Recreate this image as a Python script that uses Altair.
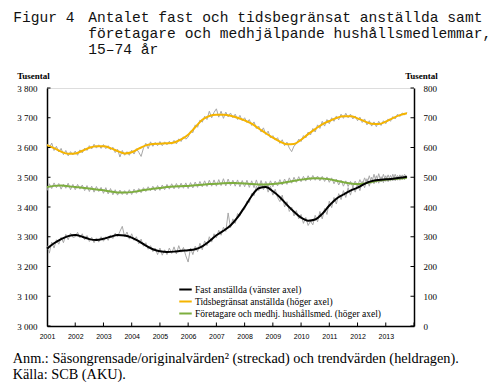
import altair as alt
import pandas as pd

# ---------------- data ----------------
series_names = [
    "Fast anställda (vänster axel)",
    "Tidsbegränsat anställda (höger axel)",
    "Företagare och medhj. hushållsmed. (höger axel)",
]
series_colors = ["#000000", "#F5B400", "#7DAE3E"]

year_ticks = list(range(2001, 2014))
left_ticks = [3000, 3100, 3200, 3300, 3400, 3500, 3600, 3700, 3800]
right_ticks = [0, 100, 200, 300, 400, 500, 600, 700, 800]

# monthly seasonally adjusted/original values, Jan 2001 - Oct 2013
raw_fast = [
    3270, 3245, 3282, 3262, 3290, 3275, 3298, 3280, 3308, 3290, 3312, 3298,
    3300, 3315, 3296, 3310, 3290, 3304, 3284, 3298, 3280, 3296, 3282, 3300,
    3285, 3300, 3288, 3306, 3294, 3312, 3300, 3318, 3335, 3300, 3316, 3292,
    3310, 3288, 3300, 3276, 3292, 3268, 3280, 3258, 3270, 3250, 3262, 3240,
    3262, 3238, 3256, 3240, 3262, 3244, 3266, 3242, 3270, 3248, 3264, 3236,
    3215, 3262, 3240, 3268, 3250, 3278, 3256, 3286, 3270, 3300, 3282, 3310,
    3296, 3322, 3305, 3332, 3318, 3380, 3330, 3360, 3345, 3378, 3370, 3392,
    3392, 3420, 3415, 3446, 3438, 3470, 3455, 3480, 3458, 3478, 3450, 3470,
    3440, 3460, 3432, 3418, 3440, 3400, 3418, 3385, 3400, 3370, 3388, 3360,
    3375, 3345, 3365, 3338, 3352, 3340, 3372, 3350, 3385, 3360, 3395, 3375,
    3420, 3398, 3432, 3410, 3445, 3425, 3455, 3432, 3465, 3440, 3470, 3450,
    3478, 3455, 3486, 3465, 3495, 3470, 3500, 3478, 3505, 3480, 3502, 3482,
    3505, 3485, 3506, 3488, 3510, 3490, 3508, 3492, 3510, 3500,
]
raw_tids = [
    612, 598, 615, 590, 604, 585, 597, 576, 590, 572, 586, 575,
    588, 574, 592, 582, 598, 590, 606, 595, 611, 598, 609, 597,
    610, 596, 606, 592, 601, 583, 594, 568, 590, 574, 586, 574,
    591, 578, 596, 584, 570, 598, 614, 596, 619, 604, 617, 606,
    620, 606, 619, 609, 621, 611, 624, 612, 629, 620, 636, 628,
    635, 655, 650, 676, 668, 692, 685, 705, 694, 722, 700, 718,
    730, 702, 722, 698, 719, 703, 716, 700, 712, 694, 708, 690,
    700, 684, 694, 674, 686, 664, 672, 652, 666, 644, 655, 632,
    640, 625, 633, 614, 626, 606, 618, 598, 586, 605, 612, 628,
    620, 640, 632, 652, 642, 664, 652, 676, 664, 688, 672, 694,
    680, 700, 688, 706, 693, 712, 698, 715, 700, 712, 696, 706,
    690, 702, 684, 696, 676, 690, 672, 686, 670, 688, 674, 690,
    680, 696, 688, 704, 696, 712, 704, 716, 710, 718,
]
raw_fore = [
    455, 478, 462, 481, 465, 479, 460, 477, 463, 480, 458, 476,
    458, 476, 460, 474, 455, 472, 452, 470, 450, 469, 452, 466,
    446, 465, 444, 462, 441, 458, 440, 457, 442, 455, 441, 458,
    442, 460, 446, 462, 448, 465, 452, 468, 455, 470, 454, 472,
    456, 474, 458, 476, 460, 478, 461, 479, 462, 480, 463, 481,
    462, 482, 464, 484, 466, 486, 468, 488, 469, 490, 470, 491,
    470, 492, 472, 495, 471, 494, 472, 490, 470, 491, 468, 489,
    468, 490, 466, 488, 465, 491, 466, 489, 465, 486, 467, 488,
    468, 487, 471, 492, 474, 494, 476, 498, 480, 500, 483, 502,
    485, 503, 487, 505, 489, 506, 490, 504, 488, 503, 486, 501,
    483, 498, 478, 494, 474, 490, 470, 488, 469, 486, 468, 487,
    470, 492, 474, 498, 478, 505, 480, 510, 482, 512, 484, 510,
    486, 508, 487, 510, 488, 506, 490, 508, 492, 504,
]

# quarterly trend values, 2001 Q1 - 2013 Q4
trend_fast = [
    3260, 3278, 3292, 3302, 3306, 3300, 3292, 3289, 3293, 3300, 3306, 3304,
    3297, 3285, 3270, 3258, 3251, 3249, 3250, 3253, 3255, 3258, 3268, 3285,
    3305, 3320, 3338, 3365, 3400, 3437, 3463, 3467, 3453, 3433, 3407, 3384,
    3364, 3354, 3358, 3377, 3405, 3428, 3442, 3455, 3465, 3478, 3487, 3491,
    3493, 3495, 3498, 3502,
]
trend_tids = [
    608, 598, 586, 579, 580, 589, 599, 604, 604, 598, 588, 580,
    584, 596, 607, 612, 613, 614, 617, 627, 643, 668, 693, 706,
    710, 710, 707, 700, 691, 680, 664, 648, 633, 620, 611, 612,
    626, 645, 662, 678, 689, 699, 705, 705, 698, 688, 680, 679,
    687, 699, 709, 715,
]
trend_fore = [
    467, 471, 472, 470, 467, 465, 462, 459, 456, 452, 449, 449,
    450, 454, 458, 461, 464, 467, 469, 470, 471, 473, 475, 477,
    478, 480, 481, 480, 479, 477, 476, 476, 477, 480, 484, 488,
    492, 495, 497, 496, 493, 488, 483, 479, 477, 479, 484, 489,
    492, 494, 496, 498,
]

title_fig = "Figur 4"
title_lines = [
    "Antalet fast och tidsbegränsat anställda samt",
    "företagare och medhjälpande hushållsmedlemmar,",
    "15–74 år",
]
note_lines = [
    "Anm.: Säsongrensade/originalvärden² (streckad) och trendvärden (heldragen).",
    "Källa: SCB (AKU).",
]
axis_title = "Tusental"

# ---------------- tables ----------------
months = [2001 + i / 12 for i in range(len(raw_fast))]
quarters = [2001 + i / 4 for i in range(len(trend_fast))]

raw_left_df = pd.DataFrame({"t": months, "v": raw_fast, "serie": series_names[0]})
raw_right_df = pd.concat([
    pd.DataFrame({"t": months, "v": raw_tids, "serie": series_names[1]}),
    pd.DataFrame({"t": months, "v": raw_fore, "serie": series_names[2]}),
])
trend_left_df = pd.DataFrame({"t": quarters, "v": trend_fast, "serie": series_names[0]})
trend_right_df = pd.concat([
    pd.DataFrame({"t": quarters, "v": trend_tids, "serie": series_names[1]}),
    pd.DataFrame({"t": quarters, "v": trend_fore, "serie": series_names[2]}),
])

SERIF = "Liberation Serif"
W, H = 367, 238

x_enc = alt.X(
    "t:Q",
    scale=alt.Scale(domain=[2001, 2014], nice=False, zero=False),
    axis=alt.Axis(
        values=year_ticks, format="d", title=None, grid=False,
        ticks=False, tickSize=0, labelPadding=6,
        labelFont="Liberation Sans", labelFontSize=7, labelColor="#000",
        domainColor="#000", domainWidth=1.5, labelFlush=False,
    ),
)

left_scale = alt.Scale(domain=[3000, 3800], nice=False, zero=False)
right_scale = alt.Scale(domain=[0, 800], nice=False, zero=False)

num_expr = "replace(format(datum.value, ','), ',', ' ')"

left_axis = alt.Axis(
    orient="left", values=left_ticks, grid=False, ticks=False, tickSize=0,
    labelPadding=10, labelFont=SERIF, labelFontSize=9, labelColor="#000",
    labelExpr=num_expr, domainColor="#000", domainWidth=1.5,
    title=axis_title, titleAngle=0, titleX=-14, titleY=-10,
    titleAlign="center", titleBaseline="alphabetic", titleFont=SERIF,
    titleFontSize=9, titleFontWeight="bold", titleColor="#000",
)
right_axis = alt.Axis(
    orient="right", values=right_ticks, grid=False, ticks=False, tickSize=0,
    labelPadding=9, labelFont=SERIF, labelFontSize=9, labelColor="#000",
    domainColor="#000", domainWidth=1.5,
    title=axis_title, titleAngle=0, titleX=7, titleY=-10,
    titleAlign="center", titleBaseline="alphabetic", titleFont=SERIF,
    titleFontSize=9, titleFontWeight="bold", titleColor="#000",
)

color_enc = alt.Color(
    "serie:N",
    scale=alt.Scale(domain=series_names, range=series_colors),
    legend=alt.Legend(
        title=None, orient="none", legendX=131, legendY=194,
        symbolType="stroke", symbolSize=156, symbolStrokeWidth=2,
        labelFont=SERIF, labelFontSize=9.5, labelColor="#000",
        labelOffset=2, rowPadding=0, padding=0, labelLimit=400,
    ),
    sort=series_names,
)

GRAY = "#a8a8a8"

raw_right = alt.Chart(raw_right_df).mark_line(strokeWidth=1, color=GRAY).encode(
    x=x_enc, y=alt.Y("v:Q", scale=right_scale, axis=None), detail="serie:N"
)
raw_left = alt.Chart(raw_left_df).mark_line(strokeWidth=1, color=GRAY).encode(
    x=x_enc, y=alt.Y("v:Q", scale=left_scale, axis=left_axis), detail="serie:N"
)
trend_right = alt.Chart(trend_right_df).mark_line(strokeWidth=2, interpolate="monotone").encode(
    x=x_enc, y=alt.Y("v:Q", scale=right_scale, axis=right_axis), color=color_enc
)
trend_left = alt.Chart(trend_left_df).mark_line(strokeWidth=2, interpolate="monotone").encode(
    x=x_enc, y=alt.Y("v:Q", scale=left_scale, axis=None), color=color_enc
)

# inward tick marks
xt = alt.Chart(pd.DataFrame({"t": year_ticks[1:] + [2014]})).mark_rule(color="#000", strokeWidth=1).encode(
    x=x_enc, y=alt.value(H), y2=alt.value(H - 3.5)
)
lt = alt.Chart(pd.DataFrame({"v": left_ticks})).mark_rule(color="#000", strokeWidth=1).encode(
    y=alt.Y("v:Q", scale=left_scale, axis=None), x=alt.value(0), x2=alt.value(3.5)
)
rt = alt.Chart(pd.DataFrame({"v": right_ticks})).mark_rule(color="#000", strokeWidth=1).encode(
    y=alt.Y("v:Q", scale=right_scale, axis=None), x=alt.value(W - 3.5), x2=alt.value(W)
)

one = pd.DataFrame({"k": [0]})
fig_txt = alt.Chart(one).mark_text(
    font="Liberation Mono", fontSize=14.6, align="left", baseline="alphabetic", color="#111"
).encode(x=alt.value(-33.7), y=alt.value(-66.5), text=alt.value(title_fig))
title_txt = alt.Chart(one).mark_text(
    font="Liberation Mono", fontSize=14.6, align="left", baseline="alphabetic",
    lineHeight=16.2, color="#111"
).encode(x=alt.value(41.3), y=alt.value(-66.5), text=alt.value(title_lines))
note_txt = alt.Chart(one).mark_text(
    font=SERIF, fontSize=14.3, align="left", baseline="alphabetic",
    lineHeight=16, color="#000"
).encode(x=alt.value(-34.3), y=alt.value(274.5), text=alt.value(note_lines))

chart = alt.layer(
    raw_right, raw_left, trend_right, trend_left, xt, lt, rt, fig_txt, title_txt, note_txt
).resolve_scale(y="independent").properties(
    width=W, height=H,
    autosize=alt.AutoSizeParams(type="none"),
    padding={"left": 39, "top": 80, "right": 79, "bottom": 56},
).configure_view(stroke=None).configure(background="white")

chart.save("out.html", embed_options={"renderer": "svg", "actions": False})
